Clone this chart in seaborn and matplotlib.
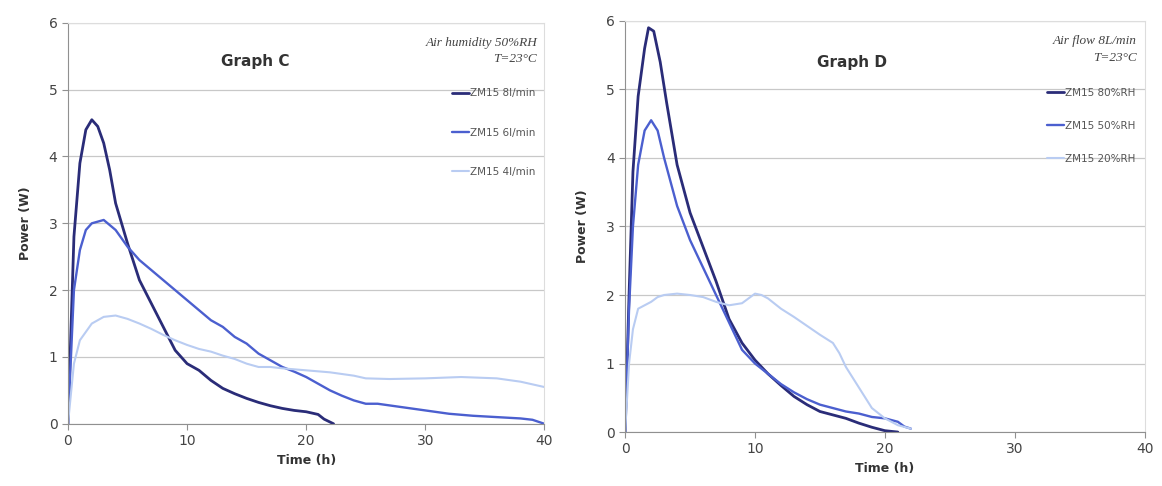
import pandas as pd
import matplotlib
matplotlib.use("Agg")
import matplotlib.pyplot as plt
import seaborn as sns

# Graph C: different air flow, 50%RH
c_8_t = [0, 0.5, 1, 1.5, 2, 2.5, 3, 3.5, 4, 5, 6, 7, 8, 9, 10, 11, 12, 13, 14, 15, 16, 17, 18, 19, 20, 21, 21.5, 22.3]
c_8_p = [0, 2.8, 3.9, 4.4, 4.55, 4.45, 4.2, 3.8, 3.3, 2.7, 2.15, 1.8, 1.45, 1.1, 0.9, 0.8, 0.65, 0.53, 0.45, 0.38, 0.32, 0.27, 0.23, 0.2, 0.18, 0.14, 0.07, 0.0]
c_6_t = [0, 0.5, 1, 1.5, 2, 3, 4, 5, 6, 7, 8, 9, 10, 11, 12, 13, 14, 15, 16, 17, 18, 19, 20, 21, 22, 23, 24, 25, 26, 28, 30, 32, 34, 36, 38, 39, 40]
c_6_p = [0, 2.0, 2.6, 2.9, 3.0, 3.05, 2.9, 2.65, 2.45, 2.3, 2.15, 2.0, 1.85, 1.7, 1.55, 1.45, 1.3, 1.2, 1.05, 0.95, 0.85, 0.78, 0.7, 0.6, 0.5, 0.42, 0.35, 0.3, 0.3, 0.25, 0.2, 0.15, 0.12, 0.1, 0.08, 0.06, 0.0]
c_4_t = [0, 0.5, 1, 2, 3, 4, 5, 6, 7, 8, 9, 10, 11, 12, 13, 14, 15, 16, 17, 18, 20, 22, 24, 25, 27, 30, 33, 36, 38, 40]
c_4_p = [0, 0.9, 1.25, 1.5, 1.6, 1.62, 1.57, 1.5, 1.42, 1.33, 1.25, 1.18, 1.12, 1.08, 1.02, 0.97, 0.9, 0.85, 0.85, 0.83, 0.8, 0.77, 0.72, 0.68, 0.67, 0.68, 0.7, 0.68, 0.63, 0.55]

# Graph D: different humidity, 8 L/min
d_80_t = [0, 0.3, 0.6, 1, 1.5, 1.8, 2.2, 2.7, 3.2, 4, 5, 6, 7, 8, 9, 10, 11, 12, 13, 14, 15, 16, 17, 18, 19, 20, 21]
d_80_p = [0, 2, 3.8, 4.9, 5.6, 5.9, 5.85, 5.4, 4.8, 3.9, 3.2, 2.7, 2.2, 1.65, 1.3, 1.05, 0.85, 0.68, 0.52, 0.4, 0.3, 0.25, 0.2, 0.13, 0.07, 0.02, 0.0]
d_50_t = [0, 0.3, 0.6, 1, 1.5, 2, 2.5, 3, 4, 5, 6, 7, 8, 9, 10, 11, 12, 13, 14, 15, 16, 17, 18, 19, 20, 21, 21.5, 22]
d_50_p = [0, 1.8, 3.0, 3.9, 4.4, 4.55, 4.4, 4.0, 3.3, 2.8, 2.4, 2.0, 1.6, 1.2, 1.0, 0.85, 0.7, 0.58, 0.48, 0.4, 0.35, 0.3, 0.27, 0.22, 0.2, 0.15, 0.08, 0.05]
d_20_t = [0, 0.3, 0.6, 1, 2, 2.5, 3, 4, 5, 6, 7, 8, 9, 10, 10.5, 11, 12, 13, 14, 15, 16, 16.5, 17, 18, 19, 20, 21, 22]
d_20_p = [0, 1.0, 1.5, 1.8, 1.9, 1.97, 2.0, 2.02, 2.0, 1.97, 1.9, 1.85, 1.88, 2.02, 2.0, 1.95, 1.8, 1.68, 1.55, 1.42, 1.3, 1.15, 0.95, 0.65, 0.35, 0.2, 0.1, 0.05]

labels_c = ["ZM15 8l/min", "ZM15 6l/min", "ZM15 4l/min"]
labels_d = ["ZM15 80%RH", "ZM15 50%RH", "ZM15 20%RH"]
colors = ["#2a2c78", "#4b5fcf", "#b9ccf2"]
widths = [2.0, 1.7, 1.5]

sns.set_style("white")
fig = plt.figure(figsize=(11.62, 4.86), dpi=100)
ax1 = fig.add_axes([0.0585, 0.128, 0.41, 0.825])
ax2 = fig.add_axes([0.538, 0.111, 0.447, 0.846])


def draw(ax, series, labels, title, note, title_xy, leg_y, spacing):
    for (t, p), lab, col, w in zip(series, labels, colors, widths):
        sns.lineplot(x=t, y=p, ax=ax, color=col, label=lab, lw=w,
                     sort=False, estimator=None)
    ax.set_xlim(0, 40)
    ax.set_ylim(0, 6)
    ax.set_xticks([0, 10, 20, 30, 40])
    ax.set_yticks(range(0, 7))
    ax.grid(axis="y", color="#c8c8c8", lw=0.9)
    ax.grid(axis="x", visible=False)
    for s in ["top", "right"]:
        ax.spines[s].set_color("#dddddd")
    for s in ["left", "bottom"]:
        ax.spines[s].set_color("#909090")
    ax.tick_params(axis="both", direction="out", length=4, color="#909090",
                   labelsize=10, labelcolor="#444444", left=True, bottom=True)
    ax.set_xlabel("Time (h)", fontsize=9, fontweight="bold", color="#333333")
    ax.set_ylabel("Power (W)", fontsize=9, fontweight="bold", color="#333333",
                  labelpad=12)
    ax.text(title_xy[0], title_xy[1], title, fontsize=11, fontweight="bold",
            ha="center", va="center", color="#333333")
    ax.text(0.985, 0.965, note, transform=ax.transAxes, ha="right", va="top",
            fontsize=9.5, family="Liberation Serif", style="italic",
            color="#444444", linespacing=1.5)
    leg = ax.legend(loc="upper right", bbox_to_anchor=(1.0, leg_y),
                    frameon=False, fontsize=7.5, handlelength=1.6,
                    handletextpad=0.1, labelspacing=spacing)
    for txt in leg.get_texts():
        txt.set_color("#555555")


draw(ax1, [(c_8_t, c_8_p), (c_6_t, c_6_p), (c_4_t, c_4_p)], labels_c,
     "Graph C", "Air humidity 50%RH\nT=23°C", (15.7, 5.42), 0.86, 2.8)
draw(ax2, [(d_80_t, d_80_p), (d_50_t, d_50_p), (d_20_t, d_20_p)], labels_d,
     "Graph D", "Air flow 8L/min\nT=23°C", (17.5, 5.39), 0.86, 2.2)

fig.savefig("out.png", dpi=100)
